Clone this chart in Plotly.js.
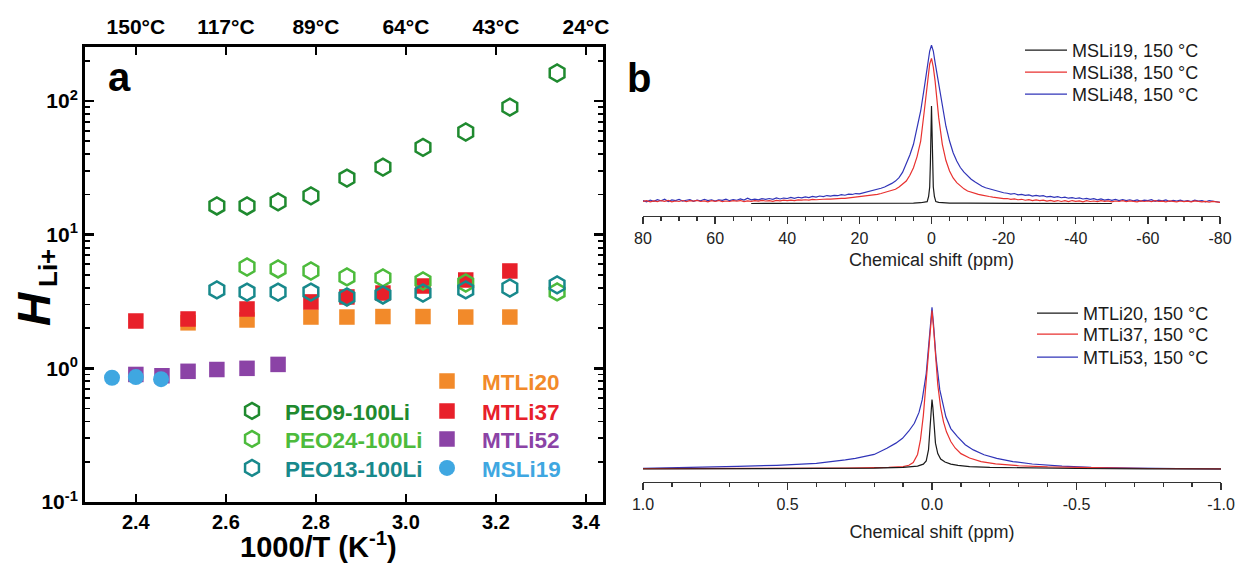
<!DOCTYPE html>
<html>
<head>
<meta charset="utf-8">
<script src="https://cdn.plot.ly/plotly-3.0.1.min.js"></script>
<style>html,body{margin:0;padding:0;background:#fff;}#chart{width:1236px;height:565px;}</style>
</head>
<body>
<div id="chart"></div>
<script>
// ---------- Panel a data (1000/T in K^-1, H_Li+) ----------
const peo9X  = [2.580, 2.647, 2.716, 2.789, 2.869, 2.949, 3.038, 3.133, 3.231, 3.336];
const peo9Y  = [16.4, 16.4, 17.6, 19.5, 26.5, 32, 45, 58.6, 90, 162];
const peo24X = [2.647, 2.716, 2.789, 2.869, 2.949, 3.038, 3.133, 3.336];
const peo24Y = [5.73, 5.54, 5.35, 4.83, 4.75, 4.5, 4.35, 3.73];
const peo13X = [2.580, 2.647, 2.716, 2.789, 2.869, 2.949, 3.038, 3.133, 3.231, 3.336];
const peo13Y = [3.86, 3.72, 3.72, 3.72, 3.42, 3.54, 3.66, 3.86, 3.99, 4.21];
const mtli20X = [2.516, 2.647, 2.789, 2.869, 2.949, 3.038, 3.133, 3.231];
const mtli20Y = [2.19, 2.30, 2.42, 2.42, 2.44, 2.44, 2.42, 2.42];
const mtli37X = [2.400, 2.516, 2.647, 2.789, 2.869, 2.949, 3.038, 3.133, 3.231];
const mtli37Y = [2.26, 2.34, 2.78, 3.14, 3.42, 3.66, 4.13, 4.58, 5.35];
const mtli52X = [2.400, 2.458, 2.516, 2.580, 2.647, 2.716];
const mtli52Y = [0.90, 0.88, 0.95, 0.98, 1.00, 1.07];
const msli19X = [2.347, 2.400, 2.456];
const msli19Y = [0.85, 0.86, 0.83];

const xTickVals = [2.4, 2.6, 2.8, 3.0, 3.2, 3.4];
const xTickText = ['2.4', '2.6', '2.8', '3.0', '3.2', '3.4'];
const tempTickText = ['150°C', '117°C', '89°C', '64°C', '43°C', '24°C'];
const yTickVals = [0.1, 1, 10, 100];
const yTickText = ['10<sup>-1</sup>', '10<sup>0</sup>', '10<sup>1</sup>', '10<sup>2</sup>'];

// ---------- Panel b (top) data: chemical shift (ppm), intensity (a.u.) ----------
const topPpm = [80,79,78,77,76,75,74,73,72,71,70,69,68,67,66,65,64,63,62,61,60,59,58,57,56,55,54,53,52,51,
  50,49,48,47,46,45,44,43,42,41,40,39,38,37,36,35,34,33,32,31,30,29,28,27,26,25,24,23,22,21,
  20,19,18,17,16,15,14,13,12,11,10,9,8,7,6,5,4,3,2,
  1.5,1,0.5,0,-0.5,-1,-1.5,
  -2,-3,-4,-5,-6,-7,-8,-9,-10,-11,-12,-13,-14,-15,-16,-17,-18,-19,-20,
  -21,-22,-23,-24,-25,-26,-27,-28,-29,-30,-31,-32,-33,-34,-35,-36,-37,-38,-39,-40,
  -41,-42,-43,-44,-45,-46,-47,-48,-49,-50,-51,-52,-53,-54,-55,-56,-57,-58,-59,-60,
  -61,-62,-63,-64,-65,-66,-67,-68,-69,-70,-71,-72,-73,-74,-75,-76,-77,-78,-79,-80];
const msli48Int = [0.3,-0.5,0.6,-0.2,0.9,0.1,1.2,-0.3,0.7,0.2,1.0,-0.1,0.5,0.9,-0.2,0.6,0.1,1.1,0.3,0.8,
  -0.1,0.7,0.4,1.2,0.2,0.9,0.5,1.3,0.6,1.8,0.8,1.2,0.7,1.5,1.0,1.6,1.1,2.0,1.3,1.9,
  1.6,2.3,1.7,2.4,2.0,2.6,2.2,2.9,2.5,3.2,2.8,3.5,3.1,3.6,3.4,4.1,3.7,4.4,4.2,4.8,
  4.6,5.2,5.5,6.2,6.6,7.5,8.2,9.0,10.0,11.3,12.8,15.0,18.5,23.6,29.5,36.4,46.5,57.8,72.8,
  80,89.9,96.3,100,96.3,88.8,82,
  75,60,48,38.5,31,25.7,21.5,18.5,16,14,12.3,10.8,9.5,8.5,7.8,7.0,6.4,5.8,5.3,
  5.0,4.4,4.8,3.9,4.3,3.6,3.9,3.2,3.6,3.1,3.4,2.6,3.0,2.3,2.8,2.1,2.5,1.8,2.2,1.6,
  2.0,1.3,1.7,1.0,1.5,0.8,1.3,0.6,1.1,0.4,1.0,0.3,0.9,0.2,0.8,0.1,0.7,-0.1,0.6,0.2,
  0.9,-0.2,0.5,0.1,0.7,-0.3,0.4,0.0,0.6,-0.2,0.3,-0.4,0.5,-0.1,0.2,-0.5,0.3,-0.2,-0.6,-0.8];
const msli38Int = [-0.3,0.2,-0.6,0.1,-0.4,0.3,-0.2,0.4,-0.5,0.0,-0.3,0.3,-0.4,0.2,-0.1,0.4,-0.3,0.1,-0.5,0.2,
  -0.2,0.3,-0.4,0.0,-0.3,0.2,-0.1,0.3,-0.4,0.1,-0.2,0.3,-0.1,0.4,0.0,0.3,-0.2,0.4,0.1,0.5,
  0.2,0.6,0.3,0.7,0.5,0.8,0.6,1.0,0.8,1.1,1.0,1.3,1.2,1.5,1.4,1.7,1.7,2.0,2.1,2.3,
  2.4,2.7,3.0,3.4,3.8,4.3,4.8,5.4,6.1,6.8,7.5,9.0,10.8,12.8,16.5,21.4,28.5,38.5,57.8,
  68,79,88,91.6,86,77,65,
  53.5,36.4,26,19.3,14.8,11.8,9.6,7.8,6.4,5.6,5.0,4.3,3.8,3.2,2.9,2.5,2.1,1.8,1.5,
  1.6,1.1,1.3,0.8,1.1,0.5,0.9,0.3,0.7,0.2,0.6,-0.1,0.4,-0.2,0.3,-0.3,0.2,-0.4,0.3,-0.2,
  0.1,-0.5,0.2,-0.3,0.0,-0.4,0.2,-0.2,0.1,-0.5,0.0,-0.3,0.2,-0.4,0.1,-0.2,-0.6,0.1,-0.3,0.0,
  -0.4,0.2,-0.3,-0.1,-0.5,0.1,-0.3,-0.6,0.0,-0.4,-0.1,-0.5,0.1,-0.3,-0.6,-0.2,-0.7,-0.3,-0.8,-0.9];
const msli19Ppm = [50,40,30,20,10,5,3,2,1.2,0.8,0.5,0.3,0.15,0,-0.15,-0.3,-0.5,-0.8,-1.2,-2,-3,-5,-10,-20,-30,-40,-50];
const msli19Int = [-1.6,-1.6,-1.5,-1.5,-1.4,-1.3,-1.1,-0.9,-0.4,3,9,25,45,61,45,25,9,3,-0.4,-0.9,-1.1,-1.3,-1.4,-1.5,-1.5,-1.6,-1.6];

// ---------- Panel b (bottom) data ----------
const mtli53Ppm = [1.0,0.8,0.673,0.537,0.4,0.3,0.265,0.2,0.156,0.125,0.102,0.08,0.061,0.045,0.034,0.02,0.0095,0.004,0,
  -0.005,-0.0136,-0.027,-0.048,-0.065,-0.088,-0.115,-0.143,-0.18,-0.224,-0.28,-0.347,-0.45,-0.551,-0.7,-0.85,-1.0];
const mtli53Int = [0.4,1.0,1.6,2.3,3.5,5.6,6.6,9.0,12.8,16,19,23.5,28.3,35,42.7,59,79.8,93,100,
  90,69.5,48.9,32.3,25,20,15,11.8,8.8,6.6,4.6,3.1,1.8,1.0,0.5,0.2,0.0];
const mtli37Ppm = [1.0,0.6,0.3,0.15,0.1,0.08,0.065,0.05,0.04,0.03,0.02,0.013,0.006,0,
  -0.006,-0.013,-0.02,-0.03,-0.04,-0.05,-0.065,-0.08,-0.1,-0.13,-0.17,-0.22,-0.3,-0.4,-0.55,-0.75,-1.0];
const mtli37Int = [0.2,0.3,0.6,1.0,1.5,2.3,4,9,18,33,55,75,90,98,
  86,66,52,38,29,23,17,13,9.5,6.8,4.6,3.2,2.0,1.3,0.7,0.3,0.1];
const mtli20Ppm = [1.0,0.5,0.2,0.1,0.05,0.03,0.02,0.012,0.006,0.003,0,-0.003,-0.006,-0.012,-0.02,-0.03,-0.045,-0.065,-0.09,-0.13,-0.2,-0.35,-0.5,-0.75,-1.0];
const mtli20Int = [0.0,0.2,0.5,1.0,1.8,3.0,5,12,27,37,43,38,29,16,9.5,6.2,4.3,3.0,2.2,1.5,1.0,0.5,0.3,0.1,0.0];

const topTickVals = [80, 60, 40, 20, 0, -20, -40, -60, -80];
const topTickText = ['80', '60', '40', '20', '0', '-20', '-40', '-60', '-80'];
const botTickVals = [1, 0.5, 0, -0.5, -1];
const botTickText = ['1.0', '0.5', '0.0', '-0.5', '-1.0'];

// ---------- colours ----------
const C = {
  peo9: '#1f8a2f', peo24: '#4dbb3c', peo13: '#18898c',
  mt20: '#f28a2a', mt37: '#e8202a', mt52: '#8b43a6', ms19: '#3fa7e1',
  k: '#1a1a1a', r: '#e8312f', b: '#3034b8'
};
const FONT = 'Liberation Sans, Arial, sans-serif';

function lbl(text, col) { return '<span style="color:' + col + '">' + text + '</span>'; }

const traces = [
  {x: mtli20X, y: mtli20Y, type: 'scatter', mode: 'markers', name: lbl('MTLi20', C.mt20), legend: 'legend4',
   marker: {symbol: 'square', size: 15.5, color: C.mt20}},
  {x: mtli37X, y: mtli37Y, type: 'scatter', mode: 'markers', name: lbl('MTLi37', C.mt37), legend: 'legend5',
   marker: {symbol: 'square', size: 15.5, color: C.mt37}},
  {x: mtli52X, y: mtli52Y, type: 'scatter', mode: 'markers', name: lbl('MTLi52', C.mt52), legend: 'legend6',
   marker: {symbol: 'square', size: 15.5, color: C.mt52}},
  {x: msli19X, y: msli19Y, type: 'scatter', mode: 'markers', name: lbl('MSLi19', C.ms19), legend: 'legend7',
   marker: {symbol: 'circle', size: 16, color: C.ms19}},
  {x: peo24X, y: peo24Y, type: 'scatter', mode: 'markers', name: lbl('PEO24-100Li', C.peo24), legend: 'legend2',
   marker: {symbol: 'hexagon-open', size: 17, color: C.peo24, line: {width: 2.5}}},
  {x: peo13X, y: peo13Y, type: 'scatter', mode: 'markers', name: lbl('PEO13-100Li', C.peo13), legend: 'legend3',
   marker: {symbol: 'hexagon-open', size: 17, color: C.peo13, line: {width: 2.5}}},
  {x: peo9X, y: peo9Y, xaxis: 'x2', type: 'scatter', mode: 'markers', name: lbl('PEO9-100Li', C.peo9), legend: 'legend',
   marker: {symbol: 'hexagon-open', size: 17, color: C.peo9, line: {width: 2.5}}},

  {x: topPpm, y: msli48Int, xaxis: 'x3', yaxis: 'y3', type: 'scatter', mode: 'lines', name: 'MSLi48, 150 °C',
   legend: 'legend10', line: {color: C.b, width: 1.2}},
  {x: topPpm, y: msli38Int, xaxis: 'x3', yaxis: 'y3', type: 'scatter', mode: 'lines', name: 'MSLi38, 150 °C',
   legend: 'legend9', line: {color: C.r, width: 1.2}},
  {x: msli19Ppm, y: msli19Int, xaxis: 'x3', yaxis: 'y3', type: 'scatter', mode: 'lines', name: 'MSLi19, 150 °C',
   legend: 'legend8', line: {color: C.k, width: 1.2}},

  {x: mtli53Ppm, y: mtli53Int, xaxis: 'x4', yaxis: 'y4', type: 'scatter', mode: 'lines', name: 'MTLi53, 150 °C',
   legend: 'legend13', line: {color: C.b, width: 1.2}},
  {x: mtli37Ppm, y: mtli37Int, xaxis: 'x4', yaxis: 'y4', type: 'scatter', mode: 'lines', name: 'MTLi37, 150 °C',
   legend: 'legend12', line: {color: C.r, width: 1.2}},
  {x: mtli20Ppm, y: mtli20Int, xaxis: 'x4', yaxis: 'y4', type: 'scatter', mode: 'lines', name: 'MTLi20, 150 °C',
   legend: 'legend11', line: {color: C.k, width: 1.2}}
];

const W = 1236, H = 565;
const px = v => v / W;
const py = v => (H - v) / H;

// one legend per entry, placed by its row centre (pixels)
function leg(x0, rowY, size, itemwidth, bold) {
  const f = {family: FONT, size: size, color: '#1a1a1a'};
  if (bold) f.weight = 'bold';
  return {x: px(x0), y: py(rowY - (size * 0.5 + 9)), xanchor: 'left', yanchor: 'top',
    bgcolor: 'rgba(0,0,0,0)', borderwidth: 0, font: f, itemwidth: itemwidth};
}

const specAxis = (domain, anchor, range, tv, tt, minorD, standoff) => ({
  domain: domain, anchor: anchor, range: range, tickmode: 'array', tickvals: tv, ticktext: tt,
  ticks: 'outside', ticklen: 7, tickwidth: 1.3, tickcolor: '#333',
  minor: {dtick: minorD, ticks: 'outside', ticklen: 4, tickwidth: 1.3, tickcolor: '#333', showgrid: false},
  showline: true, linewidth: 1.4, linecolor: '#333', showgrid: false, zeroline: false,
  tickfont: {family: FONT, size: 16, color: '#222'},
  title: {text: 'Chemical shift (ppm)', font: {family: FONT, size: 18, color: '#222'}, standoff: standoff}
});

const layout = {
  width: W, height: H, margin: {l: 0, r: 0, t: 0, b: 0},
  paper_bgcolor: '#ffffff', plot_bgcolor: 'rgba(0,0,0,0)',
  font: {family: FONT, color: '#000'},
  showlegend: true,
  xaxis: {
    domain: [px(85), px(603)], anchor: 'y', range: [2.287, 3.438],
    tickmode: 'array', tickvals: xTickVals, ticktext: xTickText,
    ticks: 'inside', ticklen: 8, tickwidth: 2.5, tickcolor: '#000',
    showline: true, linewidth: 3, linecolor: '#000', mirror: 'ticks',
    showgrid: false, zeroline: false,
    tickfont: {family: FONT, size: 20, weight: 'bold', color: '#000'}
  },
  xaxis2: {
    overlaying: 'x', side: 'top', anchor: 'y', range: [2.287, 3.438],
    tickmode: 'array', tickvals: xTickVals, ticktext: tempTickText,
    ticks: '', showline: false, showgrid: false, zeroline: false, ticklabelstandoff: 8,
    tickfont: {family: FONT, size: 21, weight: 'bold', color: '#000'}
  },
  yaxis: {
    domain: [py(502), py(47)], anchor: 'x', type: 'log', range: [-1, 2.404],
    tickmode: 'array', tickvals: yTickVals, ticktext: yTickText,
    ticks: 'inside', ticklen: 9, tickwidth: 2.5, tickcolor: '#000',
    minor: {dtick: 'D1', ticks: 'inside', ticklen: 5, tickwidth: 1.8, tickcolor: '#000', showgrid: false},
    showline: true, linewidth: 3, linecolor: '#000', mirror: 'ticks',
    showgrid: false, zeroline: false,
    tickfont: {family: FONT, size: 21, weight: 'bold', color: '#000'}
  },
  xaxis3: specAxis([px(643), px(1220)], 'y3', [80, -80], topTickVals, topTickText, 5, 8),
  yaxis3: {domain: [py(216), py(30)], anchor: 'x3', range: [-9.63, 109.8], visible: false},
  xaxis4: specAxis([px(643), px(1221)], 'y4', [1, -1], botTickVals, botTickText, 0.1, 14),
  yaxis4: {domain: [py(482), py(290)], anchor: 'x4', range: [-8.04, 110.7], visible: false},

  legend:   leg(219, 410, 22.5, 56, true),
  legend2:  leg(219, 438, 22.5, 56, true),
  legend3:  leg(219, 467, 22.5, 56, true),
  legend4:  leg(412, 380, 22.5, 60, true),
  legend5:  leg(412, 410, 22.5, 60, true),
  legend6:  leg(412, 438, 22.5, 60, true),
  legend7:  leg(412, 467, 22.5, 60, true),
  legend8:  leg(1020, 50, 18, 42, false),
  legend9:  leg(1020, 72, 18, 42, false),
  legend10: leg(1020, 94, 18, 42, false),
  legend11: leg(1032, 313, 18, 41, false),
  legend12: leg(1032, 334, 18, 41, false),
  legend13: leg(1032, 357, 18, 41, false),

  annotations: [
    {text: '<b>a</b>', xref: 'paper', yref: 'paper', x: px(119), y: py(77), xanchor: 'center', yanchor: 'middle',
     showarrow: false, font: {family: FONT, size: 40, color: '#000'}},
    {text: '<b>b</b>', xref: 'paper', yref: 'paper', x: px(639), y: py(78), xanchor: 'center', yanchor: 'middle',
     showarrow: false, font: {family: FONT, size: 40, color: '#000'}},
    {text: '<b>1000/T (K<sup>-1</sup>)</b>', xref: 'paper', yref: 'paper', x: px(318), y: py(545), xanchor: 'center', yanchor: 'middle',
     showarrow: false, font: {family: FONT, size: 29, color: '#000'}},
    {text: '<b><i>H</i></b>', xref: 'paper', yref: 'paper', x: px(34), y: py(309), xanchor: 'center', yanchor: 'middle',
     textangle: -90, showarrow: false, font: {family: FONT, size: 46, color: '#000'}},
    {text: '<b>Li+</b>', xref: 'paper', yref: 'paper', x: px(48), y: py(268), xanchor: 'center', yanchor: 'middle',
     textangle: -90, showarrow: false, font: {family: FONT, size: 26, color: '#000'}}
  ]
};

Plotly.newPlot('chart', traces, layout, {displayModeBar: false, staticPlot: true});
</script>
</body>
</html>
